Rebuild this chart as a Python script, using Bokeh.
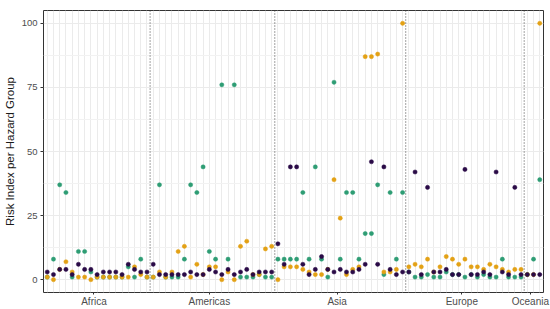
import numpy as np
from bokeh.plotting import figure
from bokeh.models import FixedTicker, Span, ColumnDataSource, Range1d
from bokeh.embed import file_html
from bokeh.resources import INLINE

# ---------------- data ----------------
continents = ["Africa", "Americas", "Asia", "Europe", "Oceania"]
continent_sizes = [17, 20, 21, 19, 3]

y_ticks = [0, 25, 50, 75, 100]
y_minor = [12.5, 37.5, 62.5, 87.5]

# risk index per hazard group, one value per country (countries ordered by continent)
hazard_purple = [3, 2, 4, 4, 2, 6, 4, 4, 2, 3, 3, 3, 2, 6, 4, 3, 3,
                 6, 2, 2, 2, 2, 2, 3, 2, 2, 4, 3, 2, 4, 2, 3, 4, 2, 3, 3, 3,
                 14, 6, 44, 44, 6, 2, 4, 9, 4, 3, 4, 3, 3, 4, 6, 46, 6, 44, 4, 2, 3,
                 3, 42, 2, 36, 3, 3, 4, 2, 2, 43, 2, 2, 3, 2, 42, 3, 2, 36, 2,
                 2, 2, 2]
hazard_orange = [1, 0, 4, 7, 3, 1, 1, 0, 1, 1, 1, 1, 1, 1, 5, 2, 1,
                 1, 3, 1, 3, 11, 13, 1, 6, 2, 5, 5, 0, 3, 0, 13, 15, 2, 2, 12, 13,
                 0, 5, 5, 5, 4, 3, 2, 2, 4, 39, 24, 2, 4, 5, 87, 87, 88, 3, 3, 4, 100,
                 5, 6, 5, 8, 3, 5, 9, 8, 6, 8, 5, 5, 4, 6, 5, 4, 3, 4, 4,
                 2, 2, 100]
hazard_green = [1, 8, 37, 34, 1, 11, 11, 3, 1, 1, 1, 1, 1, 5, 1, 8, 1,
                1, 37, 1, 1, 1, 8, 37, 34, 44, 11, 8, 76, 8, 76, 1, 1, 1, 2, 1, 1,
                8, 8, 8, 8, 34, 8, 44, 8, 1, 77, 8, 34, 34, 8, 18, 18, 37, 2, 34, 8, 34,
                3, 1, 1, 2, 1, 1, 3, 2, 2, 1, 2, 1, 2, 1, 1, 8, 1, 1, 1,
                2, 8, 39]

# ---------------- layout helpers ----------------
n = len(hazard_purple)
idx = np.arange(1, n + 1)
starts = np.cumsum([0] + continent_sizes[:-1]) + 1
label_pos = [float(s + k / 2 - 1) for s, k in zip(starts, continent_sizes)]
separators = list(np.cumsum(continent_sizes)[:-1] + 0.5)

W, H = 550, 309
LEFT, RIGHT, TOP = 41, 7, 10
x0, x1 = 0.4, n + 0.6

p = figure(width=W, height=H, output_backend="svg", toolbar_location=None,
           x_range=Range1d(x0, x1), y_range=Range1d(-5, 105),
           min_border_left=LEFT, min_border_right=RIGHT, min_border_top=TOP,
           min_border_bottom=0, background_fill_color="white",
           border_fill_color="white")

p.outline_line_color = "#333333"
p.outline_line_width = 1

# grids
p.xgrid.ticker = FixedTicker(ticks=[int(i) for i in idx])
p.xgrid.grid_line_color = "#EBEBEB"
p.xgrid.grid_line_width = 1
p.ygrid.ticker = FixedTicker(ticks=y_ticks, minor_ticks=y_minor)
p.ygrid.grid_line_color = "#EBEBEB"
p.ygrid.grid_line_width = 1
p.ygrid.minor_grid_line_color = "#F2F2F2"
p.ygrid.minor_grid_line_width = 1

# axes
p.yaxis.ticker = FixedTicker(ticks=y_ticks, minor_ticks=y_minor)
p.yaxis.minor_tick_line_color = None
p.yaxis.axis_line_color = None
p.yaxis.major_tick_line_color = "#333333"
p.yaxis.major_tick_out = 3
p.yaxis.major_tick_in = 0
p.yaxis.major_label_standoff = 2
p.yaxis.major_label_text_font = "Liberation Sans"
p.yaxis.major_label_text_font_size = "9.5px"
p.yaxis.major_label_text_color = "#4D4D4D"
p.yaxis.axis_label = "Risk Index per Hazard Group"
p.yaxis.axis_label_text_font = "Liberation Sans"
p.yaxis.axis_label_text_font_size = "11.5px"
p.yaxis.axis_label_text_font_style = "normal"
p.yaxis.axis_label_text_color = "#1A1A1A"
p.yaxis.axis_label_standoff = 3

p.xaxis.ticker = FixedTicker(ticks=label_pos)
p.xaxis.major_label_overrides = {pos: name for pos, name in zip(label_pos, continents)}
p.xaxis.axis_line_color = None
p.xaxis.minor_tick_line_color = None
p.xaxis.major_tick_line_color = "#333333"
p.xaxis.major_tick_out = 2
p.xaxis.major_tick_in = 0
p.xaxis.major_label_standoff = 1
p.xaxis.major_label_text_font = "Liberation Sans"
p.xaxis.major_label_text_font_size = "10px"
p.xaxis.major_label_text_color = "#4D4D4D"

# separators between continents
for s in separators:
    p.add_layout(Span(location=float(s), dimension="height", line_color="#444444",
                      line_width=1, line_dash="1 2"))

# points
colors = {"green": "#2E9D74", "orange": "#E3A115", "purple": "#2A0B47"}
for vals, col in [(hazard_green, colors["green"]),
                  (hazard_orange, colors["orange"]),
                  (hazard_purple, colors["purple"])]:
    src = ColumnDataSource(dict(x=idx, y=vals))
    p.scatter("x", "y", source=src, size=4.2, fill_color=col, line_color=col,
              line_width=0.5)

open("out.html", "w").write(file_html(p, INLINE))
